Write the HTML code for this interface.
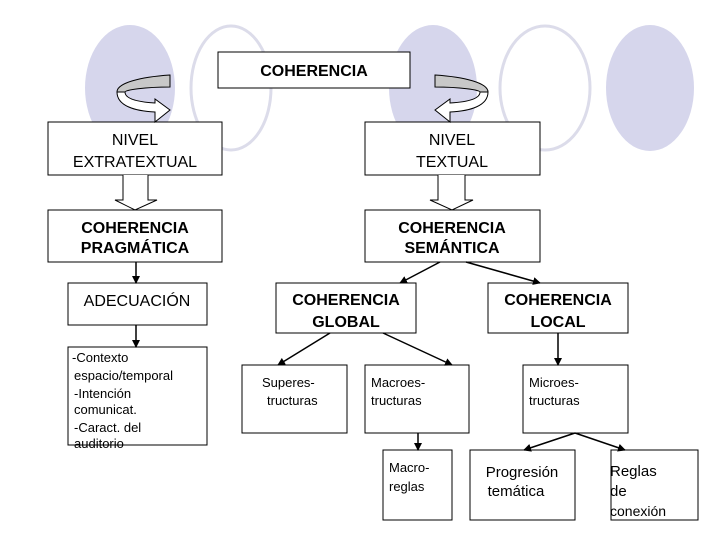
<!DOCTYPE html>
<html><head><meta charset="utf-8"><style>
html,body{margin:0;padding:0;background:#fff}
svg text{font-family:"Liberation Sans",Arial,sans-serif;fill:#000}
.b{font-weight:bold}
</style></head><body>
<svg width="720" height="540" viewBox="0 0 720 540" xmlns="http://www.w3.org/2000/svg">
<defs><marker id="a" markerWidth="8" markerHeight="8" refX="7" refY="4" orient="auto" markerUnits="userSpaceOnUse"><path d="M0,0 L8,4 L0,8 z" fill="#000"/></marker></defs>
<ellipse cx="130" cy="88" rx="45" ry="63" fill="#d6d6ec"/>
<ellipse cx="231" cy="88" rx="40" ry="62" fill="none" stroke="#dcdcea" stroke-width="3"/>
<ellipse cx="433" cy="88" rx="44" ry="63" fill="#d6d6ec"/>
<ellipse cx="545" cy="88" rx="45" ry="62" fill="none" stroke="#dcdcea" stroke-width="3"/>
<ellipse cx="650" cy="88" rx="44" ry="63" fill="#d6d6ec"/>
<g fill="#fff" stroke="#000" stroke-width="1">
<rect x="218" y="52" width="192" height="36"/>
<rect x="48" y="122" width="174" height="53"/>
<rect x="365" y="122" width="175" height="53"/>
<rect x="48" y="210" width="174" height="52"/>
<rect x="365" y="210" width="175" height="52"/>
<rect x="68" y="283" width="139" height="42"/>
<rect x="276" y="283" width="140" height="50"/>
<rect x="488" y="283" width="140" height="50"/>
<rect x="68" y="347" width="139" height="98"/>
<rect x="242" y="365" width="105" height="68"/>
<rect x="365" y="365" width="104" height="68"/>
<rect x="523" y="365" width="105" height="68"/>
<rect x="383" y="450" width="69" height="70"/>
<rect x="470" y="450" width="105" height="70"/>
<rect x="611" y="450" width="87" height="70"/>
<path d="M123,175 L123,200 L115,200 L135,210 L157,200 L148,200 L148,175"/>
<path d="M438,175 L438,200 L430,200 L452,210 L473,200 L465,200 L465,175"/>
<g id="ca">
<path d="M117,92 C117,106 135,111 155,112 L155,122 L170,110 L155,99 L155,103 C138,102 125,99 125,92 z"/>
<path d="M170,75 C140,77 117,83 117,92 L125,92 C125,90 145,87 170,87 z" fill="#c8c8c8"/>
</g>
<g transform="matrix(-1,0,0,1,605,0)">
<path d="M117,92 C117,106 135,111 155,112 L155,122 L170,110 L155,99 L155,103 C138,102 125,99 125,92 z"/>
<path d="M170,75 C140,77 117,83 117,92 L125,92 C125,90 145,87 170,87 z" fill="#c8c8c8"/>
</g>
</g>
<g stroke="#000" stroke-width="1.5" marker-end="url(#a)">
<line x1="136" y1="262" x2="136" y2="283"/>
<line x1="136" y1="325" x2="136" y2="347"/>
<line x1="440" y1="262" x2="400" y2="283"/>
<line x1="466" y1="262" x2="540" y2="283"/>
<line x1="330" y1="333" x2="278" y2="365"/>
<line x1="383" y1="333" x2="452" y2="365"/>
<line x1="558" y1="333" x2="558" y2="365"/>
<line x1="418" y1="433" x2="418" y2="450"/>
<line x1="575" y1="433" x2="524" y2="450"/>
<line x1="575" y1="433" x2="625" y2="450"/>
</g>
<g font-size="16" text-anchor="middle">
<text class="b" x="314" y="76">COHERENCIA</text>
<text x="135" y="145">NIVEL</text><text x="135" y="167">EXTRATEXTUAL</text>
<text x="452" y="145">NIVEL</text><text x="452" y="167">TEXTUAL</text>
<text class="b" x="135" y="233">COHERENCIA</text><text class="b" x="135" y="253">PRAGMÁTICA</text>
<text class="b" x="452" y="233">COHERENCIA</text><text class="b" x="452" y="253">SEMÁNTICA</text>
<text x="137" y="306">ADECUACIÓN</text>
<text class="b" x="346" y="305">COHERENCIA</text><text class="b" x="346" y="327">GLOBAL</text>
<text class="b" x="558" y="305">COHERENCIA</text><text class="b" x="558" y="327">LOCAL</text>
<text x="522" y="477" font-size="15">Progresión</text><text x="516" y="496" font-size="15">temática</text>
</g>
<g font-size="13">
<text x="72" y="362">-Contexto</text>
<text x="74" y="380">espacio/temporal</text>
<text x="74" y="398">-Intención</text>
<text x="74" y="414">comunicat.</text>
<text x="74" y="432">-Caract. del</text>
<text x="74" y="448">auditorio</text>
<text x="262" y="387">Superes-</text><text x="267" y="405">tructuras</text>
<text x="371" y="387">Macroes-</text><text x="371" y="405">tructuras</text>
<text x="529" y="387">Microes-</text><text x="529" y="405">tructuras</text>
<text x="389" y="472">Macro-</text><text x="389" y="491">reglas</text>
<text x="610" y="476" font-size="15">Reglas</text><text x="610" y="496" font-size="15">de</text><text x="610" y="516" font-size="14">conexión</text>
</g>
</svg>
</body></html>
